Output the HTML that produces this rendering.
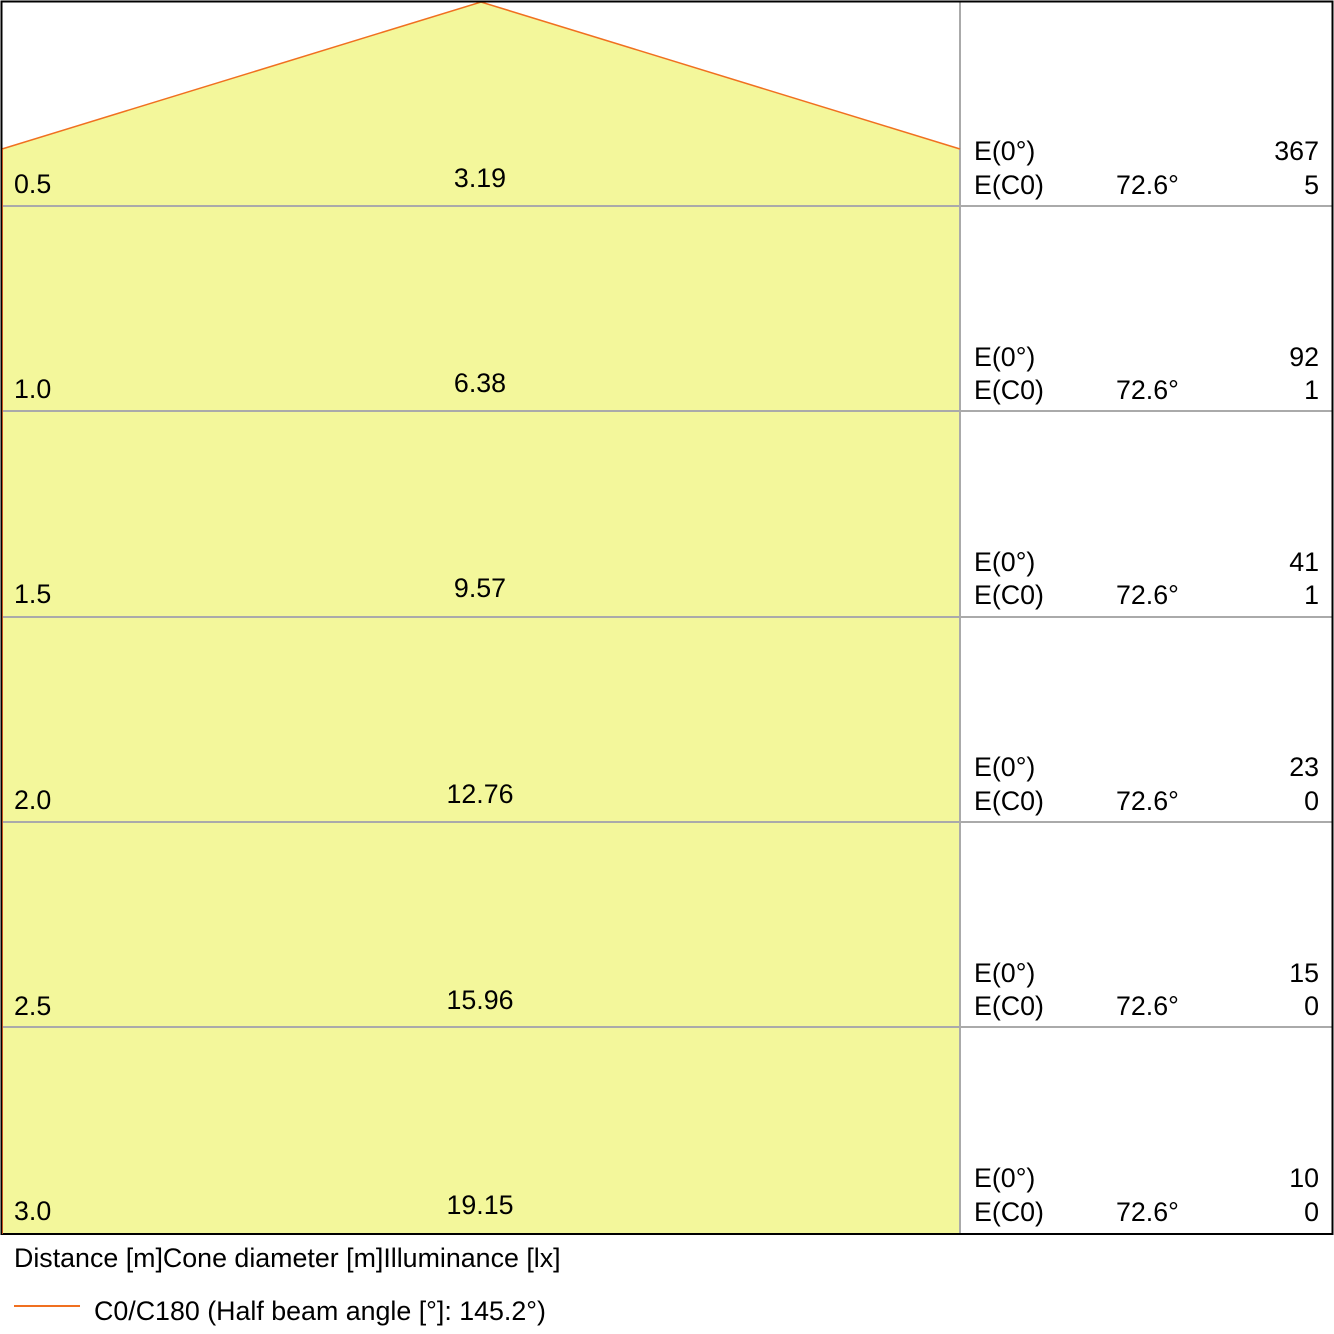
<!DOCTYPE html>
<html><head><meta charset="utf-8"><style>html,body{margin:0;padding:0;background:#fff}svg{display:block}</style></head><body>
<svg width="1334" height="1334" xmlns="http://www.w3.org/2000/svg" font-family="Liberation Sans, sans-serif" font-size="26.8" fill="#000">
<polygon points="2,149 481,2 960,149 960,1234 2,1234" fill="#f3f79b"/>
<g stroke="#aaa" stroke-width="2">
<line x1="2" y1="206" x2="1333" y2="206"/>
<line x1="2" y1="411" x2="1333" y2="411"/>
<line x1="2" y1="617" x2="1333" y2="617"/>
<line x1="2" y1="822" x2="1333" y2="822"/>
<line x1="2" y1="1027" x2="1333" y2="1027"/>
<line x1="960" y1="2" x2="960" y2="1234"/>
</g>
<polyline points="2,149 481,2 960,149" fill="none" stroke="#f07020" stroke-width="1.5"/>
<rect x="1.5" y="1.5" width="1331" height="1232.5" fill="none" stroke="#000" stroke-width="2"/>
<line x1="2.5" y1="149" x2="2.5" y2="1234" stroke="#c05020" stroke-width="1"/>
<g>
<text x="14" y="193">0.5</text><text x="480" y="187" text-anchor="middle">3.19</text>
<text x="14" y="398">1.0</text><text x="480" y="392" text-anchor="middle">6.38</text>
<text x="14" y="603">1.5</text><text x="480" y="597" text-anchor="middle">9.57</text>
<text x="14" y="809">2.0</text><text x="480" y="803" text-anchor="middle">12.76</text>
<text x="14" y="1015">2.5</text><text x="480" y="1009" text-anchor="middle">15.96</text>
<text x="14" y="1220">3.0</text><text x="480" y="1214" text-anchor="middle">19.15</text>
</g>
<g>
<text x="974" y="160">E(0°)</text><text x="974" y="194">E(C0)</text><text x="1116" y="194">72.6°</text><text x="1319" y="160" text-anchor="end">367</text><text x="1319" y="194" text-anchor="end">5</text>
<text x="974" y="366">E(0°)</text><text x="974" y="399">E(C0)</text><text x="1116" y="399">72.6°</text><text x="1319" y="366" text-anchor="end">92</text><text x="1319" y="399" text-anchor="end">1</text>
<text x="974" y="571">E(0°)</text><text x="974" y="604">E(C0)</text><text x="1116" y="604">72.6°</text><text x="1319" y="571" text-anchor="end">41</text><text x="1319" y="604" text-anchor="end">1</text>
<text x="974" y="776">E(0°)</text><text x="974" y="810">E(C0)</text><text x="1116" y="810">72.6°</text><text x="1319" y="776" text-anchor="end">23</text><text x="1319" y="810" text-anchor="end">0</text>
<text x="974" y="982">E(0°)</text><text x="974" y="1015">E(C0)</text><text x="1116" y="1015">72.6°</text><text x="1319" y="982" text-anchor="end">15</text><text x="1319" y="1015" text-anchor="end">0</text>
<text x="974" y="1187">E(0°)</text><text x="974" y="1221">E(C0)</text><text x="1116" y="1221">72.6°</text><text x="1319" y="1187" text-anchor="end">10</text><text x="1319" y="1221" text-anchor="end">0</text>
</g>
<text x="14" y="1267">Distance [m]Cone diameter [m]Illuminance [lx]</text>
<line x1="14" y1="1306" x2="80" y2="1306" stroke="#f07020" stroke-width="2"/>
<text x="94" y="1320">C0/C180 (Half beam angle [°]: 145.2°)</text>
</svg>
</body></html>
